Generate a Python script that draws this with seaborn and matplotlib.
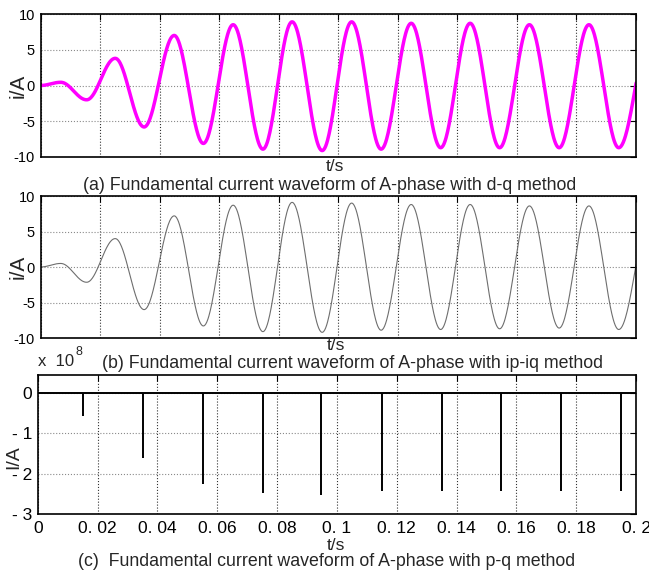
import numpy as np
import pandas as pd
import matplotlib
matplotlib.use("Agg")
import matplotlib.pyplot as plt
import seaborn as sns

# (a) d-q method: extrema of the A-phase fundamental current, A
dq_peak_t = [0.0068, 0.0251, 0.0449, 0.0647, 0.0845, 0.1045, 0.1245, 0.1443, 0.1642, 0.1842, 0.2055]
dq_peak_i = [0.45, 3.8, 7.0, 8.5, 8.9, 8.9, 8.7, 8.7, 8.5, 8.5, 8.5]
dq_trough_t = [0.0155, 0.0348, 0.0547, 0.0747, 0.0946, 0.1144, 0.1344, 0.1542, 0.1742, 0.1942]
dq_trough_i = [-2.0, -5.8, -8.1, -8.9, -9.1, -8.9, -8.7, -8.7, -8.7, -8.7]

# (b) ip-iq method: extrema of the A-phase fundamental current, A
ipiq_peak_t = [0.0068, 0.0251, 0.0449, 0.0647, 0.0845, 0.1045, 0.1245, 0.1443, 0.1642, 0.1842, 0.2055]
ipiq_peak_i = [0.5, 4.0, 7.2, 8.7, 9.1, 9.0, 8.8, 8.8, 8.6, 8.6, 8.6]
ipiq_trough_t = [0.0155, 0.0348, 0.0547, 0.0747, 0.0946, 0.1144, 0.1344, 0.1542, 0.1742, 0.1942]
ipiq_trough_i = [-2.15, -6.0, -8.3, -9.1, -9.2, -8.9, -8.8, -8.7, -8.6, -8.8]

# (c) p-q method: current spikes, units of 1e8 A
pq_spike_t = [0.0152, 0.0351, 0.0552, 0.0753, 0.0948, 0.1150, 0.1351, 0.1548, 0.1748, 0.1950]
pq_spike_i = [-0.58, -1.61, -2.25, -2.48, -2.52, -2.44, -2.42, -2.42, -2.42, -2.42]
pq_scale = 1e8

t_ticks = [0, 0.02, 0.04, 0.06, 0.08, 0.1, 0.12, 0.14, 0.16, 0.18, 0.2]
t_tick_labels = ["0", "0. 02", "0. 04", "0. 06", "0. 08", "0. 1", "0. 12", "0. 14", "0. 16", "0. 18", "0. 2"]
i_ticks = [-10, -5, 0, 5, 10]
pq_ticks = [0, -1, -2, -3]
pq_tick_labels = ["0", "- 1", "- 2", "- 3"]

captions = [
    "(a) Fundamental current waveform of A-phase with d-q method",
    "(b) Fundamental current waveform of A-phase with ip-iq method",
    "(c)  Fundamental current waveform of A-phase with p-q method",
]


def waveform(peak_t, peak_i, trough_t, trough_i, n=60):
    """Half-cosine segments joining successive current extrema, starting from rest."""
    knots = sorted([(0.0, 0.0)] + list(zip(peak_t, peak_i)) + list(zip(trough_t, trough_i)))
    ts, vs = [], []
    for (t0, v0), (t1, v1) in zip(knots[:-1], knots[1:]):
        s = np.linspace(0, 1, n, endpoint=False)
        ts.append(t0 + (t1 - t0) * s)
        vs.append(v0 + (v1 - v0) * (1 - np.cos(np.pi * s)) / 2)
    ts.append([knots[-1][0]])
    vs.append([knots[-1][1]])
    return pd.DataFrame({"t": np.concatenate(ts), "i": np.concatenate(vs)})


sns.set_theme(style="white")
plt.rcParams["font.family"] = ["Liberation Sans", "DejaVu Sans"]
plt.rcParams["axes.unicode_minus"] = False

W, H = 649, 574
fig = plt.figure(figsize=(W / 100, H / 100), dpi=100)


def box(l, t, r, b):
    return [l / W, 1 - b / H, (r - l) / W, (b - t) / H]


ax_a = fig.add_axes(box(40.5, 14, 636, 157))
ax_b = fig.add_axes(box(40.5, 196, 636, 338))
ax_c = fig.add_axes(box(37.7, 375, 636, 514))

df_a = waveform(dq_peak_t, dq_peak_i, dq_trough_t, dq_trough_i)
df_b = waveform(ipiq_peak_t, ipiq_peak_i, ipiq_trough_t, ipiq_trough_i)
sns.lineplot(data=df_a, x="t", y="i", ax=ax_a, color="#ff00ff", linewidth=2.5, sort=False)
sns.lineplot(data=df_b, x="t", y="i", ax=ax_b, color="#6e6e6e", linewidth=0.8, sort=False)

# p-q method: zero baseline with downward spikes
base = pd.DataFrame({"t": [0.0, 0.2], "i": [0.0, 0.0]})
sns.lineplot(data=base, x="t", y="i", ax=ax_c, color="black", linewidth=1.4)
ax_c.vlines(pq_spike_t, 0, np.array(pq_spike_i) * pq_scale, color="black", linewidth=1.4)

for ax in (ax_a, ax_b, ax_c):
    ax.set_xlim(0, 0.2)
    ax.set_xticks(t_ticks)
    ax.set_xlabel("")
    ax.set_ylabel("")
    ax.grid(True, axis="x", color="#333333", linestyle=":", linewidth=0.8)
    ax.grid(True, axis="y", color="#8a8a8a", linestyle=":", linewidth=0.8)
    ax.tick_params(direction="in", length=4, width=0.8, top=True, right=True,
                   colors="black", labelcolor="black", pad=4)
    for sp in ax.spines.values():
        sp.set_color("black")
        sp.set_linewidth(1.2)
    ax.set_facecolor("white")

for ax in (ax_a, ax_b):
    ax.set_ylim(-10, 10)
    ax.set_yticks(i_ticks)
    ax.set_yticklabels([str(v) for v in i_ticks], fontsize=10.5)
    ax.set_xticklabels([])

ax_c.set_ylim(-3 * pq_scale, 0.45 * pq_scale)
ax_c.set_yticks([v * pq_scale for v in pq_ticks])
ax_c.set_yticklabels(pq_tick_labels, fontsize=12.5)
ax_c.set_xticklabels(t_tick_labels, fontsize=12.5)
ax_c.tick_params(axis="x", pad=5)


def ftext(x, y, s, **kw):
    fig.text(x / W, 1 - y / H, s, **kw)


ftext(18, 86, "i/A", rotation=90, ha="center", va="center", fontsize=15)
ftext(18, 267, "i/A", rotation=90, ha="center", va="center", fontsize=15)
ftext(14, 457, "I/A", rotation=90, ha="center", va="center", fontsize=14)

ftext(335, 166, "t/s", ha="center", va="center", fontsize=12.5)
ftext(336, 345, "t/s", ha="center", va="center", fontsize=12.5)
ftext(336, 545, "t/s", ha="center", va="center", fontsize=12.5)

ftext(330, 186, captions[0], ha="center", va="center", fontsize=12.8)
ftext(352, 364, captions[1], ha="center", va="center", fontsize=12.8)
ftext(327, 561, captions[2], ha="center", va="center", fontsize=12.8)

ftext(38, 362, "x  10", ha="left", va="center", fontsize=12)
ftext(76, 352, "8", ha="left", va="center", fontsize=9)

fig.savefig("out.png", dpi=100, facecolor="white")
